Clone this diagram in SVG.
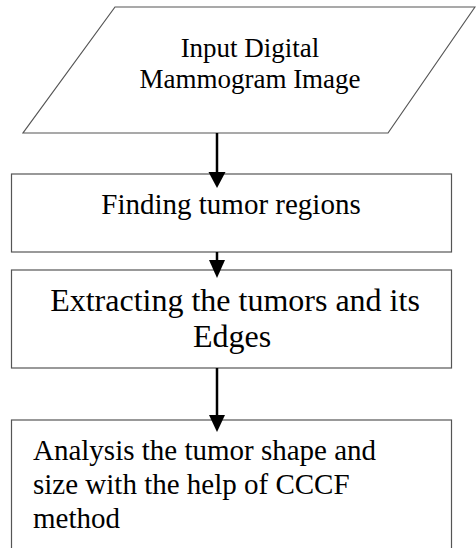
<svg xmlns="http://www.w3.org/2000/svg" width="476" height="548" viewBox="0 0 476 548">
<defs>
<style>
.shape{fill:#fff;stroke:#555;stroke-width:1.2}
.t{font-family:"Liberation Serif","Times New Roman",serif;fill:#000}
.c{stroke:#000;stroke-width:2.5;fill:none}
.ah{fill:#000}
</style>
</defs>
<rect width="476" height="548" fill="#fff"/>
<g id="n1">
<polygon class="shape" points="115,7 475,7 388,133 23,133"/>
<text class="t" x="250" y="57" font-size="27" text-anchor="middle">Input Digital</text>
<text class="t" x="250" y="88" font-size="27" text-anchor="middle">Mammogram Image</text>
</g>
<g id="n2">
<rect class="shape" x="11.5" y="174" width="440" height="78"/>
<text class="t" x="231" y="214" font-size="29" text-anchor="middle">Finding tumor regions</text>
</g>
<g id="n3">
<rect class="shape" x="11.5" y="270" width="440" height="98"/>
<text class="t" x="235" y="311" font-size="32" text-anchor="middle">Extracting the tumors and its</text>
<text class="t" x="232" y="347" font-size="32" text-anchor="middle">Edges</text>
</g>
<g id="n4">
<rect class="shape" x="11.5" y="420" width="440" height="140"/>
<text class="t" x="33" y="460" font-size="29">Analysis the tumor shape and</text>
<text class="t" x="33" y="494" font-size="29">size with the help of CCCF</text>
<text class="t" x="33" y="528" font-size="29">method</text>
</g>
<g id="connectors">
<line class="c" x1="217" y1="133" x2="217" y2="173"/>
<polygon class="ah" points="208.5,172 225.5,172 217,188"/>
<line class="c" x1="217" y1="252" x2="217" y2="261"/>
<polygon class="ah" points="209,260 225,260 217,278"/>
<line class="c" x1="217" y1="368" x2="217" y2="416"/>
<polygon class="ah" points="209,415 225,415 217,432"/>
</g>
</svg>
